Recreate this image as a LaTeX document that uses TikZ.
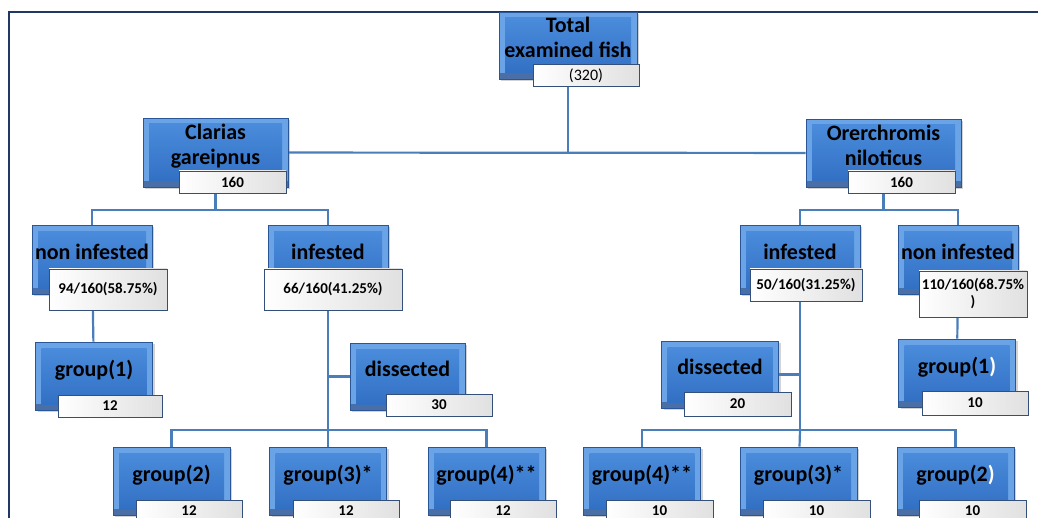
\documentclass[tikz,border=0pt]{standalone}
\usepackage{fontspec}
\setmainfont{Carlito}
\usetikzlibrary{backgrounds,shadows}
\definecolor{boxrim}{HTML}{6AA3E6}
\definecolor{boxtop}{HTML}{4A8BDB}
\definecolor{boxbottom}{HTML}{3270C4}
\definecolor{boxdark}{HTML}{2A5596}
\definecolor{linkblue}{HTML}{4A7EBB}
\definecolor{tagedge}{HTML}{34507A}
\definecolor{framenavy}{HTML}{1F3864}
\tikzset{
	fishbox/.style={fill=boxrim,draw=boxdark,line width=0.6pt,minimum width=117pt,minimum height=68pt,inner sep=0pt,align=center,
		font=\fontsize{22}{25}\selectfont\bfseries,text depth=16pt,
		drop shadow={shadow xshift=2pt,shadow yshift=-2pt,opacity=0.35},
		path picture={
			\fill[boxdark!85] (path picture bounding box.south west) rectangle ([yshift=6pt]path picture bounding box.south east);
			\fill[top color=boxtop,bottom color=boxbottom] ([shift={(6pt,-6pt)}]path picture bounding box.north west) rectangle ([shift={(-6pt,6pt)}]path picture bounding box.south east);
		}},
	fishtag/.style={draw=tagedge,line width=0.8pt,left color=white,right color=black!12,minimum width=106pt,minimum height=22pt,inner sep=0pt,align=center,
		font=\fontsize{15}{18}\selectfont\bfseries},
	link/.style={draw=linkblue,line width=2.2pt},
}

\begin{document}
\begin{tikzpicture}[x=1pt,y=-1pt]
	\useasboundingbox (0,0) rectangle (1038,518);

	% root
	\node[fishbox,minimum width=138pt,minimum height=67pt] (tot) at (568,45.5) {Total\\examined fish};
	\node[fishtag,font=\fontsize{16}{19}\selectfont] (tottag) at (586,75.5) {(320)};

	% species
	\node[fishbox,minimum width=145pt,minimum height=69pt] (cla) at (215.5,152.5) {Clarias\\gareipnus};
	\node[fishtag,minimum width=107pt] (clatag) at (232.5,182) {160};
	\node[fishbox,minimum width=155pt,minimum height=68pt] (ore) at (883.5,153) {Orerchromis\\niloticus};
	\node[fishtag,minimum width=107pt] (oretag) at (901.5,182) {160};

	% left side
	\node[fishbox,minimum width=120pt,minimum height=69pt] (lnon) at (92,260) {non infested};
	\node[fishtag,minimum width=118pt,minimum height=41pt] (lnontag) at (108,289.5) {94/160(58.75\%)};
	\node[fishbox,minimum width=120pt,minimum height=69pt] (linf) at (328,260) {infested};
	\node[fishtag,minimum width=138pt,minimum height=41pt] (linftag) at (333,289.5) {66/160(41.25\%)};

	\node[fishbox] (lgrp1) at (94,376) {group(1)};
	\node[fishtag,minimum width=104pt] (lgrp1tag) at (110,406) {12};
	\node[fishbox,minimum width=115pt,minimum height=67pt] (ldis) at (407.5,376.5) {dissected};
	\node[fishtag] (ldistag) at (439,405) {30};

	\node[fishbox] (lgrp2) at (171.5,481) {group(2)};
	\node[fishtag] (lgrp2tag) at (189,511) {12};
	\node[fishbox] (lgrp3) at (328,481) {group(3)*};
	\node[fishtag] (lgrp3tag) at (346,511) {12};
	\node[fishbox] (lgrp4) at (486.5,481) {group(4)**};
	\node[fishtag] (lgrp4tag) at (503,511) {12};

	% right side
	\node[fishbox,minimum width=120pt,minimum height=69pt] (rinf) at (800,260) {infested};
	\node[fishtag,minimum width=112pt,minimum height=32pt] (rinftag) at (806,285) {50/160(31.25\%)};
	\node[fishbox,minimum width=120pt,minimum height=69pt] (rnon) at (958,260) {non infested};
	\node[fishtag,minimum width=108pt,minimum height=46pt,font=\fontsize{15}{17}\selectfont\bfseries] (rnontag) at (973,294) {110/160(68.75\%\\)};

	\node[fishbox,minimum height=67pt] (rdis) at (720,374.5) {dissected};
	\node[fishtag,minimum width=107pt,minimum height=24pt] (rdistag) at (737.5,404) {20};
	\node[fishbox] (rgrp1) at (957,373) {group(1\textcolor{white}{)}};
	\node[fishtag,minimum height=24pt] (rgrp1tag) at (975,403) {10};

	\node[fishbox] (rgrp4) at (642,481) {group(4)**};
	\node[fishtag,minimum width=107pt] (rgrp4tag) at (659.5,511) {10};
	\node[fishbox] (rgrp3) at (798.5,481) {group(3)*};
	\node[fishtag,minimum width=107pt] (rgrp3tag) at (816.5,511) {10};
	\node[fishbox] (rgrp2) at (955.5,481) {group(2\textcolor{white}{)}};
	\node[fishtag,minimum width=107pt] (rgrp2tag) at (972.5,511) {10};

	% connectors
	\coordinate (clajoin) at (215.5,210);
	\coordinate (orejoin) at (883.5,210);
	\coordinate (lbus) at (328,430);
	\coordinate (rbus) at (800,430);
	\begin{pgfonlayer}{background}
		\draw[framenavy,line width=1.5pt] (9,518) -- (9,12) -- (1038,12);
		\draw[link] (tot) -- (tot |- cla);
		\draw[link] (cla) -- (ore);
		\draw[link] (cla) -- (clajoin);
		\draw[link] (lnon) |- (clajoin) -| (linf);
		\draw[link] (lnon) -- (lgrp1);
		\draw[link] (linf) -- (lbus);
		\draw[link] (ldis) -- (ldis -| linf);
		\draw[link] (lgrp2) |- (lbus) -| (lgrp4);
		\draw[link] (lgrp3) -- (lbus);
		\draw[link] (ore) -- (orejoin);
		\draw[link] (rinf) |- (orejoin) -| (rnon);
		\draw[link] (rnon) -- (rgrp1);
		\draw[link] (rinf) -- (rbus);
		\draw[link] (rdis) -- (rdis -| rinf);
		\draw[link] (rgrp4) |- (rbus) -| (rgrp2);
		\draw[link] (rgrp3) -- (rbus);
	\end{pgfonlayer}
\end{tikzpicture}
\end{document}
